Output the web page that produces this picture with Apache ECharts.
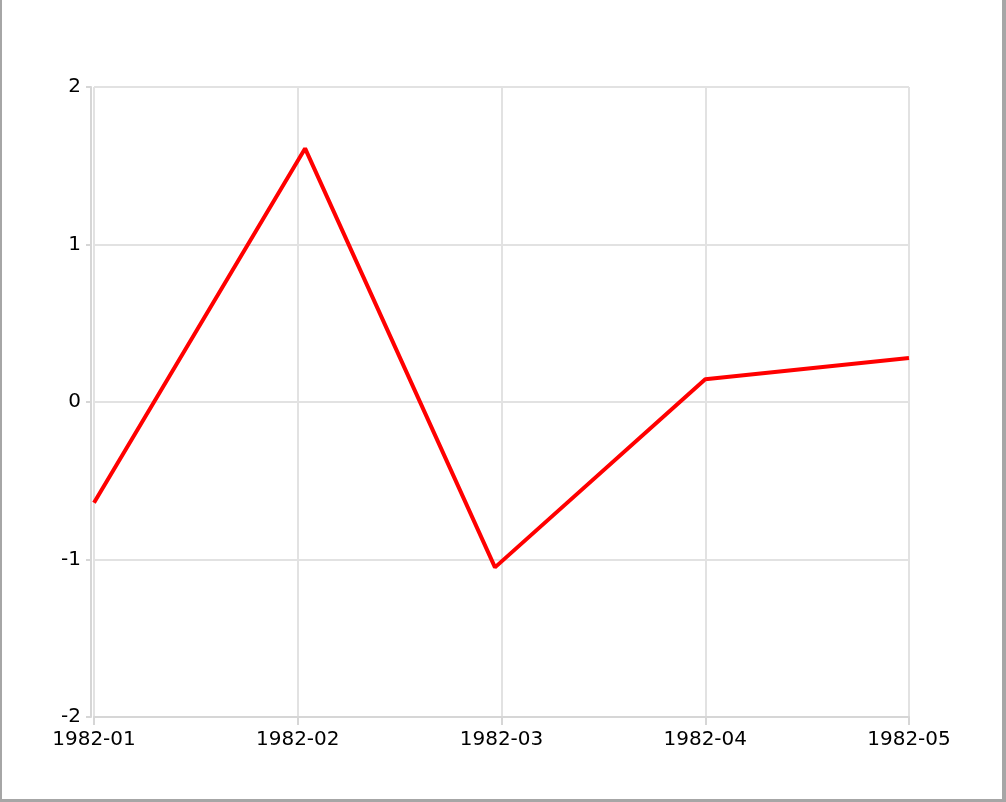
<!doctype html>
<html>
<head>
<meta charset="utf-8">
<title>1982 line</title>
<script src="https://cdn.jsdelivr.net/npm/echarts@6/dist/echarts.min.js"></script>
<style>
  html, body { margin: 0; padding: 0; background: #fff; }
  #wrap { position: relative; width: 1006px; height: 802px; }
  #container { position: absolute; left: 0; top: 0; width: 1006px; height: 802px; }
  #frame {
    position: absolute; left: 0; top: 0; width: 1006px; height: 802px;
    box-sizing: border-box; pointer-events: none;
    border-left: 2px solid #a6a6a6; border-right: 4px solid #a6a6a6; border-bottom: 3px solid #a6a6a6;
  }
</style>
</head>
<body>
<div id="wrap">
  <div id="container"></div>
  <div id="frame"></div>
</div>
<script type="text/javascript">
// tick labels of the month axis (one per month step)
var monthLabels = ['1982-01', '1982-02', '1982-03', '1982-04', '1982-05'];
// positions of the points, in month steps from 1982-01
var xValues = [0, 1.036, 1.968, 3.0, 4.0];
// series values
var yValues = [-0.64, 1.61, -1.05, 0.145, 0.28];

var seriesData = [];
for (var i = 0; i < xValues.length; i++) {
  seriesData.push([xValues[i], yValues[i]]);
}

var gridColor = '#e2e2e2';
var font = 'DejaVu Sans, Verdana, sans-serif';

var option = {
  animation: false,
  grid: { left: 94, right: 97, top: 87, bottom: 85, containLabel: false },
  xAxis: {
    type: 'value',
    min: 0,
    max: monthLabels.length - 1,
    interval: 1,
    axisLine: { show: true, onZero: false, lineStyle: { color: '#d6d6d6', width: 2 } },
    axisTick: { show: true, length: 8, lineStyle: { color: '#d6d6d6', width: 2 } },
    splitLine: { show: true, lineStyle: { color: gridColor, width: 2 } },
    axisLabel: {
      color: '#000', fontSize: 20, fontFamily: font, margin: 13,
      formatter: function (v) { return monthLabels[Math.round(v)] || ''; }
    }
  },
  yAxis: {
    type: 'value',
    min: -2,
    max: 2,
    interval: 1,
    offset: 3,
    axisLine: { show: true, onZero: false, lineStyle: { color: '#d6d6d6', width: 2 } },
    axisTick: { show: true, length: 5, lineStyle: { color: '#d6d6d6', width: 2 } },
    splitLine: { show: true, lineStyle: { color: gridColor, width: 2 } },
    axisLabel: { color: '#000', fontSize: 20, fontFamily: font, margin: 10 }
  },
  series: [{
    type: 'line',
    data: seriesData,
    showSymbol: false,
    symbol: 'none',
    lineStyle: { color: '#ff0000', width: 4 },
    clip: true
  }]
};

var myChart = echarts.init(document.getElementById('container'));
myChart.setOption(option);
</script>
</body>
</html>
